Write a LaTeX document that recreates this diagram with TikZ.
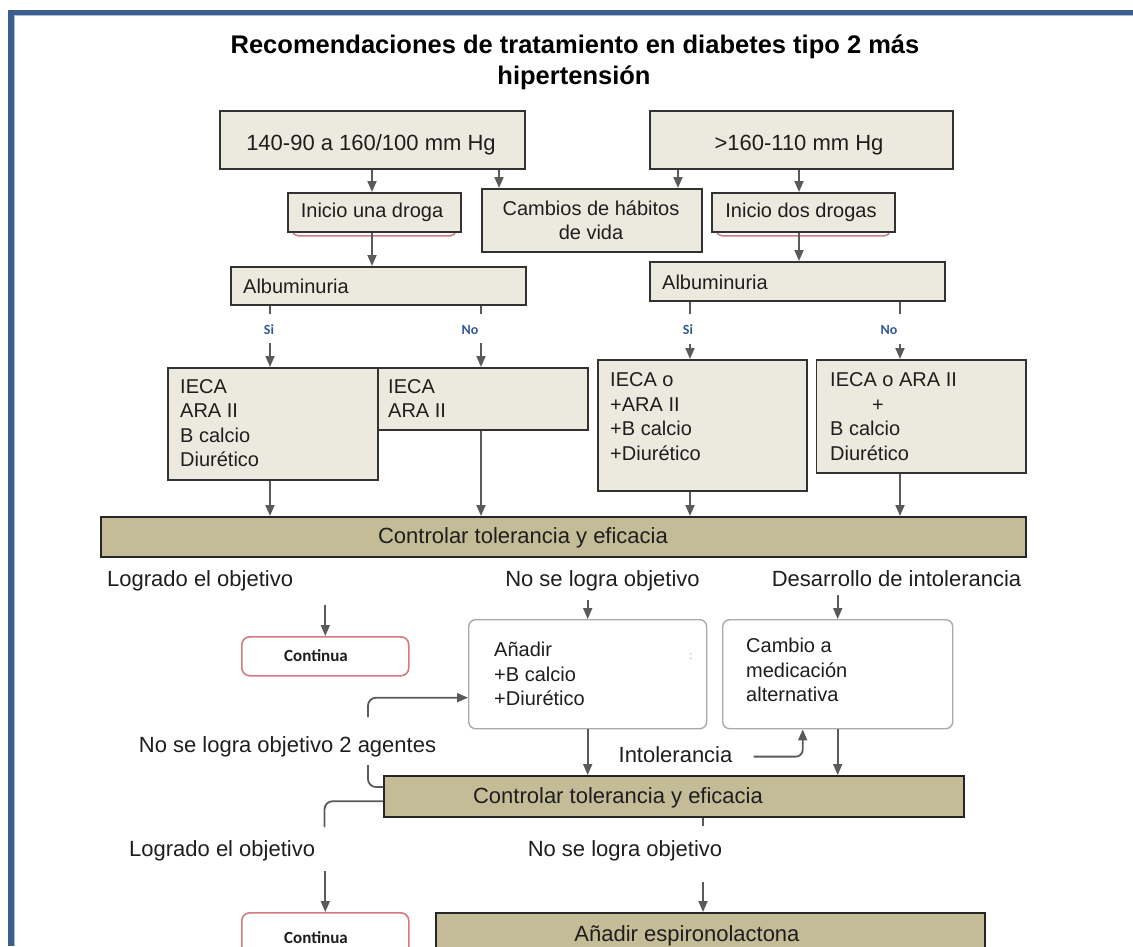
\documentclass[tikz,border=0pt]{standalone}
\usepackage{fontspec}
\setmainfont{Liberation Sans}
\newfontfamily\calibrifont{Carlito}
\usetikzlibrary{arrows.meta}
\definecolor{frameblue}{RGB}{58,95,141}
\definecolor{framelight}{RGB}{170,190,220}
\definecolor{boxfill}{RGB}{236,233,223}
\definecolor{boxline}{RGB}{50,50,50}
\definecolor{khaki}{RGB}{196,188,151}
\definecolor{linegray}{RGB}{90,90,90}
\definecolor{softgray}{RGB}{170,170,170}
\definecolor{rosered}{RGB}{212,122,130}
\definecolor{ynblue}{RGB}{46,88,150}
\definecolor{inkgray}{RGB}{30,30,30}

\begin{document}
\begin{tikzpicture}[x=1pt,y=-1pt,
  box/.style={draw=boxline, fill=boxfill, line width=1.5pt, inner sep=0pt, anchor=north west},
  bar/.style={draw=black!85, fill=khaki, line width=1.5pt, inner sep=0pt, anchor=north west},
  roundbox/.style={draw=softgray, fill=white, line width=1.4pt, rounded corners=7pt, inner sep=0pt, anchor=north west},
  okbox/.style={draw=rosered, fill=white, line width=1.6pt, rounded corners=8pt, inner sep=0pt, anchor=north west},
  redshade/.style={draw=rosered, line width=1.5pt, rounded corners=5pt, inner sep=0pt, anchor=north west},
  t20/.style={inner sep=0pt, text=inkgray, font=\fontsize{20}{24.5}\selectfont},
  t22/.style={inner sep=0pt, text=inkgray, font=\fontsize{22}{26}\selectfont},
  ttl/.style={inner sep=0pt, text=black, font=\bfseries\fontsize{25.5}{30}\selectfont},
  yn/.style={inner sep=0pt, text=ynblue, font=\calibrifont\bfseries\fontsize{14}{16}\selectfont},
  cont/.style={inner sep=0pt, text=inkgray, font=\calibrifont\bfseries\fontsize{17}{20}\selectfont},
  conn/.style={draw=linegray, line width=1.8pt},
  arr/.style={conn, -{Triangle[width=9pt,length=11pt]}},
]
\useasboundingbox (0,0) rectangle (1133,946);
\clip (0,0) rectangle (1133,946);

% page frame
\fill[frameblue] (8,10) rectangle (1133,15);
\fill[frameblue] (8,10) rectangle (14,946);
\draw[framelight, line width=1pt] (14.5,946) -- (14.5,15.5) -- (1133,15.5);

% title
\node[ttl, anchor=base] (title1) at (575,53.5) {Recomendaciones de tratamiento en diabetes tipo 2 más};
\node[ttl, anchor=base] (title2) at (574,84) {hipertensión};

% blood pressure ranges
\node[box, minimum width=305, minimum height=58] (hiA) at (219,110) {};
\node[t22, anchor=base] (hiAt) at (371,150) {140-90 a 160/100 mm Hg};
\node[box, minimum width=303, minimum height=58] (hiB) at (649,110) {};
\node[t22, anchor=base] (hiBt) at (799,150) {>160-110 mm Hg};

% first steps
\node[redshade, minimum width=163, minimum height=38] (droga1sh) at (292,197) {};
\node[box, minimum width=173, minimum height=39] (droga1) at (287,192) {};
\node[t20, anchor=base] (droga1t) at (372,217.5) {Inicio una droga};
\node[box, minimum width=220, minimum height=63] (habitos) at (481,188) {};
\node[t20, anchor=north, align=center] (habitost) at (591,197.85) {\strut Cambios de hábitos\\de vida};
\node[redshade, minimum width=173, minimum height=38] (droga2sh) at (716,197) {};
\node[box, minimum width=183, minimum height=39] (droga2) at (711,192) {};
\node[t20, anchor=base] (droga2t) at (801,217.5) {Inicio dos drogas};

% albuminuria
\node[box, minimum width=295, minimum height=38] (alb1) at (230,266) {};
\node[t20, anchor=base west] (alb1t) at (243,293) {Albuminuria};
\node[box, minimum width=295, minimum height=39] (alb2) at (649,261) {};
\node[t20, anchor=base west] (alb2t) at (662,289) {Albuminuria};

\draw[arr] (hiA.south -| droga1t) -- (droga1.north -| droga1t);
\draw[arr] ([xshift=127pt]hiA.south -| droga1t) -- ([xshift=127pt]habitos.north -| droga1t);
\draw[arr] ([xshift=-123pt]hiB.south -| droga2t) -- ([xshift=-123pt]habitos.north -| droga2t);
\draw[arr] ([xshift=-2pt]hiB.south -| droga2t) -- ([xshift=-2pt]droga2.north -| droga2t);
\draw[arr] (droga1.south -| droga1t) -- (alb1.north -| droga1t);
\draw[arr] ([xshift=-2pt]droga2.south -| droga2t) -- ([xshift=-2pt]alb2.north -| droga2t);

% treatment boxes
\node[box, minimum width=210, minimum height=112] (iecaA) at (167,367) {};
\node[t20, anchor=north west, align=left] (iecaAt) at (180,375.85) {\strut IECA\\ARA II\\B calcio\\Diurético};
\node[box, minimum width=210, minimum height=62] (iecaB) at (377,367) {};
\node[t20, anchor=north west, align=left] (iecaBt) at (388,375.85) {\strut IECA\\ARA II};
\node[box, minimum width=209, minimum height=131] (iecaC) at (597,359) {};
\node[t20, anchor=north west, align=left] (iecaCt) at (610,369.35) {\strut IECA o\\+ARA II\\+B calcio\\+Diurético};
\node[box, minimum width=209.4, minimum height=113] (iecaD) at (815.6,359) {};
\node[t20, anchor=north west, align=left] (iecaDt) at (830,369.35) {\strut IECA o ARA II\\\hspace*{42pt}+\\B calcio\\Diurético};

% yes / no branches
\coordinate (s1) at (270,329);
\coordinate (n1) at (481,329);
\coordinate (s2) at (690,329);
\coordinate (n2) at (900,329);
\node[yn, anchor=base] (s1t) at (269,334) {Si};
\node[yn, anchor=base] (n1t) at (470,334) {No};
\node[yn, anchor=base] (s2t) at (688,334) {Si};
\node[yn, anchor=base] (n2t) at (889,334) {No};
\draw[conn] (alb1.south -| s1) -- ([yshift=15pt]s1);
\draw[arr] ([yshift=-14pt]s1) -- (iecaA.north -| s1);
\draw[conn] (alb1.south -| n1) -- ([yshift=15pt]n1);
\draw[arr] ([yshift=-14pt]n1) -- (iecaB.north -| n1);
\draw[conn] (alb2.south -| s2) -- ([yshift=15pt]s2);
\draw[arr] ([yshift=-15pt]s2) -- (iecaC.north -| s2);
\draw[conn] (alb2.south -| n2) -- ([yshift=15pt]n2);
\draw[arr] ([yshift=-15pt]n2) -- (iecaD.north -| n2);

% first control
\node[bar, minimum width=925, minimum height=40] (ctrl1) at (100,516) {};
\node[t22, anchor=base] (ctrl1t) at (523,543) {Controlar tolerancia y eficacia};
\draw[arr] (iecaA.south -| s1) -- (ctrl1.north -| s1);
\draw[arr] (iecaB.south -| n1) -- (ctrl1.north -| n1);
\draw[arr] (iecaC.south -| s2) -- (ctrl1.north -| s2);
\draw[arr] (iecaD.south -| n2) -- (ctrl1.north -| n2);

% outcomes of the first control
\node[t22, anchor=base west] (log1) at (107,586) {Logrado el objetivo};
\node[t22, anchor=base] (nolog1) at (602.5,586) {No se logra objetivo};
\node[t22, anchor=base] (desa) at (896.5,586) {Desarrollo de intolerancia};

\node[okbox, minimum width=167, minimum height=39] (cont1) at (241,636) {};
\node[cont, anchor=base] (cont1t) at (316,661.5) {Continua};
\node[roundbox, minimum width=238, minimum height=109] (anadir) at (468,619) {};
\node[t20, anchor=north west, align=left] (anadirt) at (494,639.35) {\strut Añadir\\+B calcio\\+Diurético};
\node[inner sep=0pt, text=black!40, font=\fontsize{11}{12}\selectfont] (anadirmk) at (691,657) {:};
\node[roundbox, minimum width=230, minimum height=109] (cambio) at (722,619) {};
\node[t20, anchor=north west, align=left] (cambiot) at (746,635.35) {\strut Cambio a\\medicación\\alternativa};

\draw[arr, shorten <=14pt] (log1.south -| cont1.north) -- (cont1.north);
\draw[arr, shorten <=9pt] (nolog1.south -| anadir.north) -- (anadir.north);
\draw[arr, shorten <=9pt] (desa.south -| cambio.north) -- (cambio.north);

% second control
\node[bar, minimum width=580, minimum height=41] (ctrl2) at (383,775) {};
\node[t22, anchor=base] (ctrl2t) at (618,803) {Controlar tolerancia y eficacia};
\draw[arr] (anadir.south) -- (anadir.south |- ctrl2.north);
\draw[arr] (cambio.south) -- (cambio.south |- ctrl2.north);

\node[t22, anchor=base] (agentes) at (287.5,752.5) {No se logra objetivo 2 agentes};
\coordinate (loopbot) at (368,765);
\coordinate (looptop) at (368,717);
\draw[conn, rounded corners=8pt] ([yshift=-12pt]ctrl2.north west) -| (loopbot);
\draw[arr, rounded corners=8pt] (looptop) |- ([yshift=-23.5pt]anadir.west);

\node[t22, anchor=base] (intol) at (675.5,762.5) {Intolerancia};
\draw[arr, rounded corners=7pt] ([xshift=21pt,yshift=-2pt]intol.east) -| ([xshift=-35pt]cambio.south);

% outcomes of the second control
\node[t22, anchor=base west] (log2) at (129,856.5) {Logrado el objetivo};
\node[t22, anchor=base] (nolog2) at (625,856.5) {No se logra objetivo};
\coordinate (logdown) at (324.5,827);
\draw[conn, rounded corners=8pt] ([yshift=-5pt]ctrl2.west) -| (logdown);
\coordinate (e1) at (703,826);
\coordinate (e2) at (703,882);
\draw[conn] (ctrl2.south -| e1) -- (e1);

\node[okbox, minimum width=167, minimum height=45] (cont2) at (241,912) {};
\node[cont, anchor=base] (cont2t) at (316,943) {Continua};
\node[bar, minimum width=549, minimum height=45] (espiro) at (435,912) {};
\node[t22, anchor=base] (espirot) at (687,941.5) {Añadir espironolactona};
\draw[arr, shorten <=10pt] (log2.south -| cont2.north) -- (cont2.north);
\draw[arr] (e2) -- (espiro.north -| e2);
\end{tikzpicture}
\end{document}
